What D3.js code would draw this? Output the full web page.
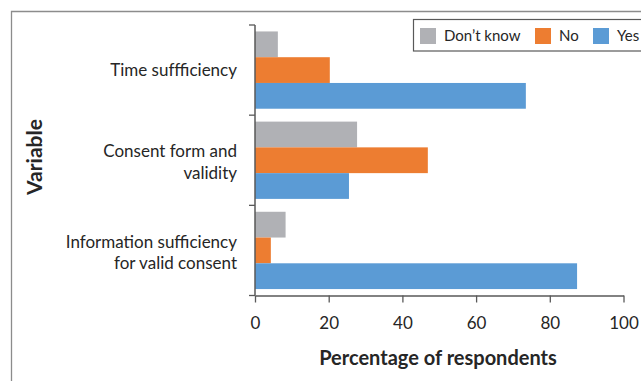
<!DOCTYPE html>
<html>
<head>
<meta charset="utf-8">
<script src="https://cdn.jsdelivr.net/npm/d3@7"></script>
<style>
  html, body { margin: 0; padding: 0; background: #fff; }
  svg { display: block; font-family: Lato, "Open Sans", sans-serif; }
</style>
</head>
<body>
<svg id="chart" width="641" height="381"></svg>
<script>
// Survey items, top to bottom
const categories = [
  ["Time suffficiency"],
  ["Consent form and", "validity"],
  ["Information sufficiency", "for valid consent"]
];
const categoryKeys = ["time", "consent", "info"];

// Response groups drawn inside each category band, top to bottom
const seriesNames = ["Don\u2019t know", "No", "Yes"];
const seriesColors = ["#b0b1b5", "#ed7d31", "#5b9bd5"];

// Percentage of respondents per category
const dontKnowValues = [6.2, 27.7, 8.3];
const noValues = [20.3, 46.9, 4.3];
const yesValues = [73.5, 25.5, 87.4];

const xTicks = [0, 20, 40, 60, 80, 100];

const seriesValues = [dontKnowValues, noValues, yesValues];

const svg = d3.select("#chart");
const W = 641, H = 381;
const plot = { left: 255, right: 623.5, top: 25, bottom: 295.5 };
const axisColor = "#595959";
const textColor = "#262626";

// Outer frame (top and left edges visible)
svg.append("path")
  .attr("d", `M11.5,${H} L11.5,11.5 L${W},11.5`)
  .attr("fill", "none")
  .attr("stroke", "#8c8c8c")
  .attr("stroke-width", 1.3);

const x = d3.scaleLinear().domain([0, 100]).range([plot.left, plot.right]);
const y0 = d3.scaleBand().domain(categoryKeys).range([plot.top, plot.bottom]).paddingInner(0).paddingOuter(0);
const y1 = d3.scaleBand().domain(seriesNames).range([0, y0.bandwidth()]).padding(0).paddingOuter(0.25);

// Bars
categoryKeys.forEach((key, ci) => {
  const g = svg.append("g").attr("transform", `translate(0,${y0(key)})`);
  seriesNames.forEach((name, si) => {
    const v = seriesValues[si][ci];
    g.append("rect")
      .attr("x", x(0))
      .attr("y", y1(name))
      .attr("width", x(v) - x(0))
      .attr("height", y1.bandwidth())
      .attr("fill", seriesColors[si]);
  });
});

// X axis
const xAxis = svg.append("g")
  .attr("transform", `translate(0,${plot.bottom})`)
  .call(d3.axisBottom(x).tickValues(xTicks).tickSize(7).tickPadding(14).tickSizeOuter(0));
xAxis.select(".domain").attr("stroke", axisColor).attr("stroke-width", 1.5);
xAxis.selectAll(".tick line").attr("stroke", axisColor).attr("stroke-width", 1.3);
xAxis.selectAll(".tick text")
  .attr("fill", textColor)
  .style("font-size", "17px")
  .style("font-family", "Lato, sans-serif");

// Y axis line with category boundary ticks
const yAxisG = svg.append("g");
yAxisG.append("line")
  .attr("x1", plot.left).attr("x2", plot.left)
  .attr("y1", plot.top).attr("y2", plot.bottom)
  .attr("stroke", axisColor).attr("stroke-width", 1.5);
const boundaries = categoryKeys.map(k => y0(k)).concat([plot.bottom]);
yAxisG.selectAll("line.tick")
  .data(boundaries)
  .join("line")
  .attr("class", "tick")
  .attr("x1", plot.left - 6).attr("x2", plot.left)
  .attr("y1", d => d).attr("y2", d => d)
  .attr("stroke", axisColor).attr("stroke-width", 1.3);

// Category labels
categoryKeys.forEach((key, ci) => {
  const lines = categories[ci];
  const cy = y0(key) + y0.bandwidth() / 2 + (lines.length > 1 ? 2 : 0);
  const lh = 21.5;
  const t = svg.append("text")
    .attr("text-anchor", "end")
    .attr("fill", textColor)
    .style("font-size", "17px");
  lines.forEach((ln, li) => {
    t.append("tspan")
      .attr("x", 237)
      .attr("y", cy + (li - (lines.length - 1) / 2) * lh)
      .attr("dy", "0.35em")
      .text(ln);
  });
});

// Axis titles
svg.append("text")
  .attr("x", 438).attr("y", 358)
  .attr("dy", "0.35em")
  .attr("text-anchor", "middle")
  .attr("fill", textColor)
  .style("font-size", "20px")
  .style("font-weight", "bold")
  .text("Percentage of respondents");

svg.append("text")
  .attr("transform", "translate(35,157) rotate(-90)")
  .attr("dy", "0.35em")
  .attr("text-anchor", "middle")
  .attr("fill", textColor)
  .style("font-size", "21px")
  .style("font-weight", "bold")
  .text("Variable");

// Legend
const legend = svg.append("g");
legend.append("rect")
  .attr("x", 413.5).attr("y", 19.5)
  .attr("width", 240).attr("height", 31.5)
  .attr("fill", "#fff")
  .attr("stroke", "#595959").attr("stroke-width", 1.2);
const legendX = [420, 535, 593];
seriesNames.forEach((name, i) => {
  legend.append("rect")
    .attr("x", legendX[i]).attr("y", 28)
    .attr("width", 16).attr("height", 16)
    .attr("fill", seriesColors[i]);
  legend.append("text")
    .attr("x", legendX[i] + 24).attr("y", 36)
    .attr("dy", "0.35em")
    .attr("fill", textColor)
    .style("font-size", "15px")
    .text(name);
});
</script>
</body>
</html>
